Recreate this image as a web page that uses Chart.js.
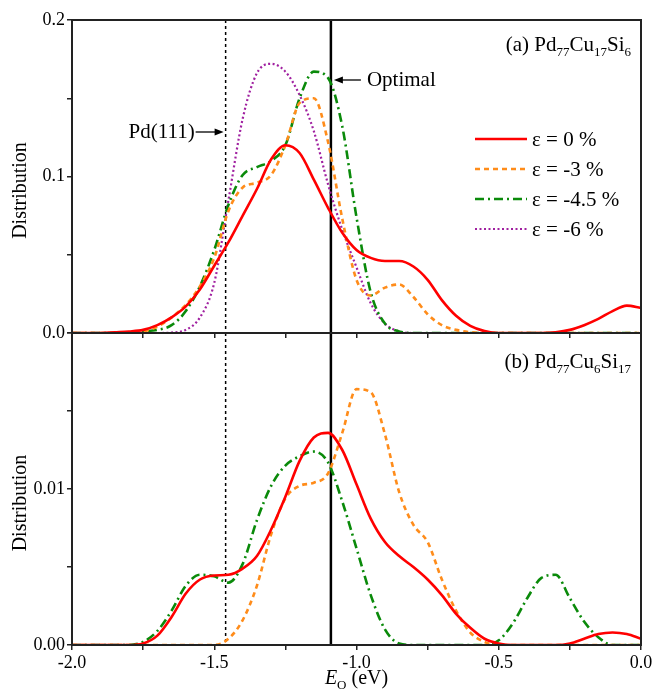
<!DOCTYPE html>
<html lang="en">
<head>
<meta charset="UTF-8">
<title>Distribution of E_O</title>
<script src="https://cdn.jsdelivr.net/npm/chart.js"></script>
<style>
  body { margin: 0; background: #fff; }
  #wrap { position: relative; width: 653px; height: 695px; }
  #wrap canvas { position: absolute; left: 0; }
  #chartA { top: 0; }
  #chartB { top: 333px; }
</style>
</head>
<body>
<div id="wrap">
  <canvas id="chartA" width="653" height="340"></canvas>
  <canvas id="chartB" width="653" height="362"></canvas>
</div>
<script>
// energy grid (eV)
const E_VALUES = [-2.00, -1.95, -1.90, -1.85, -1.80, -1.75, -1.70, -1.65, -1.60, -1.55,
                  -1.50, -1.45, -1.40, -1.35, -1.30, -1.25, -1.20, -1.15, -1.10, -1.05,
                  -1.00, -0.95, -0.90, -0.85, -0.80, -0.75, -0.70, -0.65, -0.60, -0.55,
                  -0.50, -0.45, -0.40, -0.35, -0.30, -0.25, -0.20, -0.15, -0.10, -0.05, 0.00];

// (a) Pd77Cu17Si6
const A_STRAIN_0 = [0, 0, 0, 0.0005, 0.001, 0.002, 0.005, 0.010, 0.017, 0.028,
                    0.043, 0.058, 0.075, 0.092, 0.111, 0.120, 0.115, 0.098, 0.080, 0.064,
                    0.053, 0.048, 0.046, 0.046, 0.0425, 0.034, 0.021, 0.011, 0.0045, 0.0012,
                    0, 0, 0, 0, 0.0005, 0.002, 0.005, 0.009, 0.014, 0.0175, 0.016];
const A_STRAIN_3 = [0, 0, 0, 0, 0.0003, 0.001, 0.004, 0.010, 0.018, 0.030,
                    0.048, 0.078, 0.093, 0.096, 0.101, 0.120, 0.147, 0.150, 0.122, 0.073,
                    0.034, 0.024, 0.029, 0.031, 0.023, 0.012, 0.005, 0.002, 0.0005, 0,
                    0, 0, 0, 0, 0, 0, 0, 0, 0, 0, 0];
const A_STRAIN_45 = [0, 0, 0, 0, 0, 0.001, 0.002, 0.005, 0.014, 0.030,
                     0.053, 0.082, 0.101, 0.106, 0.110, 0.120, 0.150, 0.167, 0.163, 0.132,
                     0.074, 0.026, 0.006, 0.001, 0, 0, 0, 0, 0, 0,
                     0, 0, 0, 0, 0, 0, 0, 0, 0, 0, 0];
const A_STRAIN_6 = [0, 0, 0, 0, 0, 0, 0, 0.0003, 0.002, 0.010,
                    0.032, 0.085, 0.137, 0.166, 0.172, 0.167, 0.152, 0.129, 0.095, 0.066,
                    0.042, 0.019, 0.006, 0.001, 0, 0, 0, 0, 0, 0,
                    0, 0, 0, 0, 0, 0, 0, 0, 0, 0, 0];

// (b) Pd77Cu6Si17
const B_STRAIN_0 = [0, 0, 0, 0, 0, 0.0001, 0.0006, 0.0018, 0.0033, 0.0042,
                    0.00445, 0.0045, 0.0049, 0.0057, 0.0074, 0.0095, 0.0118, 0.0133, 0.0136, 0.0125,
                    0.0103, 0.0081, 0.0066, 0.0057, 0.0050, 0.0042, 0.0032, 0.0020, 0.0011, 0.0004,
                    0.0001, 0, 0, 0, 0, 0.0001, 0.0004, 0.0007, 0.0008, 0.0007, 0.0004];
const B_STRAIN_3 = [0, 0, 0, 0, 0, 0, 0, 0, 0, 0,
                    0, 0.0004, 0.0016, 0.0038, 0.0071, 0.0094, 0.0102, 0.0104, 0.0110, 0.0136,
                    0.0164, 0.0162, 0.0135, 0.0098, 0.0077, 0.0066, 0.0042, 0.0022, 0.0008, 0.0002,
                    0, 0, 0, 0, 0, 0, 0, 0, 0, 0, 0];
const B_STRAIN_45 = [0, 0, 0, 0, 0, 0.0002, 0.0009, 0.0022, 0.0038, 0.0045,
                     0.0044, 0.0040, 0.0052, 0.0080, 0.0102, 0.0115, 0.0121, 0.0124, 0.0117, 0.0092,
                     0.0062, 0.0032, 0.0010, 0.0001, 0, 0, 0, 0, 0, 0,
                     0.0003, 0.0014, 0.0030, 0.0043, 0.0045, 0.0030, 0.0015, 0.0005, 0, 0, 0];

const LEGEND_LABELS = ['ε = 0 %', 'ε = -3 %', 'ε = -4.5 %', 'ε = -6 %'];
const PD111_E = -1.46;
const OPTIMAL_E = -1.09;
const PANEL_A_LABEL = [['(a) Pd', 0], ['77', 1], ['Cu', 0], ['17', 1], ['Si', 0], ['6', 1]];
const PANEL_B_LABEL = [['(b) Pd', 0], ['77', 1], ['Cu', 0], ['6', 1], ['Si', 0], ['17', 1]];

const SERIF = '"Liberation Serif", "Times New Roman", serif';
const STYLES = [
  { color: '#ff0000', width: 2.6, dash: [] },
  { color: '#ff8c1a', width: 2.6, dash: [5, 4] },
  { color: '#0a8a0a', width: 2.6, dash: [9, 4, 2, 4] },
  { color: '#a020a0', width: 2.2, dash: [2, 2.5] }
];

function makeDataset(label, values, style) {
  return {
    label: label,
    data: E_VALUES.map((e, i) => ({ x: e, y: values[i] })),
    borderColor: style.color,
    borderWidth: style.width,
    borderDash: style.dash,
    pointRadius: 0,
    fill: false,
    cubicInterpolationMode: 'monotone'
  };
}

// rich text with subscripts, right aligned at xRight
function drawRich(ctx, parts, xRight, y) {
  const fonts = ['21px ' + SERIF, '13px ' + SERIF];
  let w = 0;
  parts.forEach(p => { ctx.font = fonts[p[1]]; w += ctx.measureText(p[0]).width; });
  let xx = xRight - w;
  ctx.textAlign = 'left';
  ctx.textBaseline = 'alphabetic';
  parts.forEach(p => {
    ctx.font = fonts[p[1]];
    ctx.fillText(p[0], xx, p[1] ? y + 5 : y);
    xx += ctx.measureText(p[0]).width;
  });
}

function arrow(ctx, x0, x1, y) {
  const dir = Math.sign(x1 - x0);
  ctx.lineWidth = 1.3;
  ctx.setLineDash([]);
  ctx.beginPath();
  ctx.moveTo(x0, y);
  ctx.lineTo(x1 - dir * 7, y);
  ctx.stroke();
  ctx.beginPath();
  ctx.moveTo(x1, y);
  ctx.lineTo(x1 - dir * 9, y - 3.5);
  ctx.lineTo(x1 - dir * 9, y + 3.5);
  ctx.closePath();
  ctx.fill();
}

const decor = {
  id: 'decor',
  beforeDatasetsDraw(chart) {
    const { ctx, chartArea: a, scales: { x } } = chart;
    ctx.save();
    ctx.strokeStyle = '#000';
    ctx.lineWidth = 1.5;
    ctx.setLineDash([3, 3]);
    const xp = x.getPixelForValue(PD111_E);
    ctx.beginPath(); ctx.moveTo(xp, a.top); ctx.lineTo(xp, a.bottom); ctx.stroke();
    ctx.setLineDash([]);
    ctx.lineWidth = 2.5;
    const xo = x.getPixelForValue(OPTIMAL_E);
    ctx.beginPath(); ctx.moveTo(xo, a.top); ctx.lineTo(xo, a.bottom); ctx.stroke();
    ctx.restore();
  },
  afterDraw(chart, args, opts) {
    const { ctx, chartArea: a, scales: { x } } = chart;
    ctx.save();
    // frame
    ctx.strokeStyle = '#222';
    ctx.lineWidth = 2;
    ctx.strokeRect(a.left, a.top, a.right - a.left, a.bottom - a.top);
    ctx.fillStyle = '#000';
    ctx.strokeStyle = '#000';

    // y title
    ctx.save();
    ctx.translate(21, (a.top + a.bottom) / 2 + 14);
    ctx.rotate(-Math.PI / 2);
    ctx.font = '20px ' + SERIF;
    ctx.textAlign = 'center';
    ctx.textBaseline = 'middle';
    ctx.fillText('Distribution', 0, 0);
    ctx.restore();

    if (opts.panel === 'a') {
      drawRich(ctx, PANEL_A_LABEL, 631, 51);
      const xp = x.getPixelForValue(PD111_E);
      const xo = x.getPixelForValue(OPTIMAL_E);
      ctx.font = '21px ' + SERIF;
      ctx.textBaseline = 'middle';
      ctx.textAlign = 'right';
      ctx.fillText('Pd(111)', xp - 31, 132);
      arrow(ctx, xp - 30, xp - 2, 132);
      ctx.textAlign = 'left';
      ctx.fillText('Optimal', xo + 36, 80);
      arrow(ctx, xo + 30, xo + 3, 80);
      // legend
      LEGEND_LABELS.forEach((lab, i) => {
        const ds = chart.data.datasets[i];
        const y = 139 + i * 30;
        ctx.strokeStyle = ds.borderColor;
        ctx.lineWidth = ds.borderWidth;
        ctx.setLineDash(ds.borderDash);
        ctx.beginPath(); ctx.moveTo(475, y); ctx.lineTo(527, y); ctx.stroke();
        ctx.setLineDash([]);
        ctx.font = '21px ' + SERIF;
        ctx.textAlign = 'left';
        ctx.textBaseline = 'middle';
        ctx.fillText(lab, 532, y + 1);
      });
    } else {
      drawRich(ctx, PANEL_B_LABEL, 631, 35);
      // x title: E_O (eV)
      const cx = (a.left + a.right) / 2;
      const parts = [['E', 'italic 20px ' + SERIF, 0], ['O', '13px ' + SERIF, 5], [' (eV)', '20px ' + SERIF, 0]];
      let w = 0;
      parts.forEach(p => { ctx.font = p[1]; w += ctx.measureText(p[0]).width; });
      let xx = cx - w / 2;
      ctx.textAlign = 'left';
      ctx.textBaseline = 'alphabetic';
      parts.forEach(p => {
        ctx.font = p[1];
        ctx.fillText(p[0], xx, 351 + p[2]);
        xx += ctx.measureText(p[0]).width;
      });
    }
    ctx.restore();
  }
};

function yAxis(max, step, labelFn) {
  return {
    type: 'linear', min: 0, max: max,
    afterFit: s => { s.width = 72; s.paddingTop = 0; s.paddingBottom = 0; },
    border: { display: false },
    grid: { drawOnChartArea: false, drawTicks: true, tickLength: 5, color: '#222', lineWidth: 1.5 },
    ticks: { stepSize: step, padding: 2, color: '#000', font: { family: SERIF, size: 18 }, callback: labelFn }
  };
}

function xAxis(height, showLabels) {
  return {
    type: 'linear', min: -2, max: 0,
    afterFit: s => { s.height = height; s.paddingLeft = 0; s.paddingRight = 0; },
    border: { display: false },
    grid: { drawOnChartArea: false, drawTicks: true, tickLength: 5, color: '#222', lineWidth: 1.5 },
    ticks: {
      display: showLabels, stepSize: 0.25, padding: 2, autoSkip: false, maxRotation: 0,
      color: '#000', font: { family: SERIF, size: 18 },
      callback: v => { const r = Math.round(v * 100); return r % 50 === 0 ? (r / 100).toFixed(1) : ''; }
    }
  };
}

new Chart(document.getElementById('chartA'), {
  type: 'line',
  data: {
    datasets: [
      makeDataset(LEGEND_LABELS[0], A_STRAIN_0, STYLES[0]),
      makeDataset(LEGEND_LABELS[1], A_STRAIN_3, STYLES[1]),
      makeDataset(LEGEND_LABELS[2], A_STRAIN_45, STYLES[2]),
      makeDataset(LEGEND_LABELS[3], A_STRAIN_6, STYLES[3])
    ]
  },
  options: {
    responsive: false,
    animation: false,
    layout: { padding: { top: 20, right: 12, bottom: 0, left: 0 } },
    plugins: { legend: { display: false }, tooltip: { enabled: false }, decor: { panel: 'a' } },
    scales: {
      x: xAxis(7, false),
      y: yAxis(0.2, 0.05, v => { const r = Math.round(v * 100); return r % 10 === 0 ? (r / 100).toFixed(1) : ''; })
    }
  },
  plugins: [decor]
});

new Chart(document.getElementById('chartB'), {
  type: 'line',
  data: {
    datasets: [
      makeDataset(LEGEND_LABELS[0], B_STRAIN_0, STYLES[0]),
      makeDataset(LEGEND_LABELS[1], B_STRAIN_3, STYLES[1]),
      makeDataset(LEGEND_LABELS[2], B_STRAIN_45, STYLES[2])
    ]
  },
  options: {
    responsive: false,
    animation: false,
    layout: { padding: { top: 0, right: 12, bottom: 0, left: 0 } },
    plugins: { legend: { display: false }, tooltip: { enabled: false }, decor: { panel: 'b' } },
    scales: {
      x: xAxis(50, true),
      y: yAxis(0.02, 0.005, v => { const r = Math.round(v * 1000); return (r % 10 === 0 && r < 20) ? (r / 1000).toFixed(2) : ''; })
    }
  },
  plugins: [decor]
});
</script>
</body>
</html>
